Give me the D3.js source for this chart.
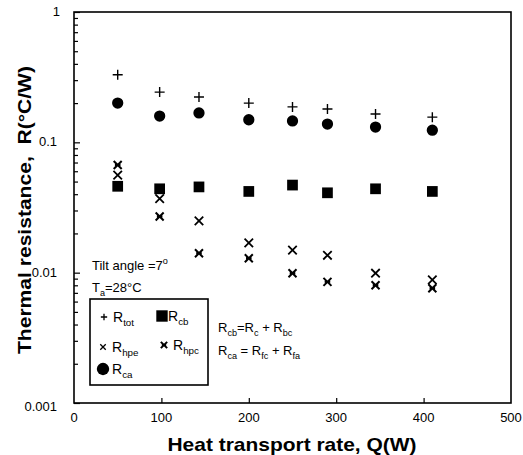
<!DOCTYPE html>
<html>
<head>
<meta charset="utf-8">
<script src="https://cdn.jsdelivr.net/npm/d3@7"></script>
<style>
  body { margin: 0; background: #fff; }
  svg { display: block; font-family: 'Liberation Sans', Arial, sans-serif; }
</style>
</head>
<body>
<div class="container"></div>
<script>
// values
const heatRate = [50, 98, 143, 200, 250, 290, 345, 410];
const rTot = [0.33, 0.243, 0.223, 0.2, 0.187, 0.18, 0.165, 0.156];
const rCa = [0.2, 0.159, 0.168, 0.149, 0.146, 0.138, 0.131, 0.124];
const rCb = [0.046, 0.044, 0.0455, 0.042, 0.047, 0.041, 0.044, 0.042];
const rHpe = [0.056, 0.037, 0.025, 0.0169, 0.0149, 0.0136, 0.0099, 0.0088];
const rHpc = [0.067, 0.027, 0.0141, 0.0129, 0.0099, 0.0085, 0.008, 0.0076];

const xTicks = [0, 100, 200, 300, 400, 500];
const yTicks = [1, 0.1, 0.01, 0.001];

const width = 523;
const height = 455;
const frame = { left: 74, right: 511, top: 12, bottom: 403 };

const svg = d3.select('.container')
  .append('svg')
  .attr('width', width)
  .attr('height', height);

const xScale = d3.scaleLinear().domain([0, 500]).range([frame.left, frame.right]);
const yScale = d3.scaleLog().domain([0.001, 1]).range([frame.bottom, frame.top]);

// custom marker shapes, drawn through d3.symbol
const plusShape = {
  draw(ctx, size) {
    const r = Math.sqrt(size) / 2;
    ctx.moveTo(-r, 0); ctx.lineTo(r, 0);
    ctx.moveTo(0, -r); ctx.lineTo(0, r);
  }
};
const crossShape = {
  draw(ctx, size) {
    const r = Math.sqrt(size) / 2;
    ctx.moveTo(-r, -r); ctx.lineTo(r, r);
    ctx.moveTo(-r, r); ctx.lineTo(r, -r);
  }
};
const starShape = {
  draw(ctx, size) {
    const r = Math.sqrt(size) / 2;
    ctx.moveTo(-r, -r); ctx.lineTo(r, r);
    ctx.moveTo(-r, r); ctx.lineTo(r, -r);
    ctx.moveTo(-r * 0.7, 0); ctx.lineTo(r * 0.7, 0);
  }
};

const series = [
  { values: rCb, type: d3.symbolSquare, size: 115, fill: '#000', stroke: 'none' },
  { values: rCa, type: d3.symbolCircle, size: 100, fill: '#000', stroke: 'none' },
  { values: rTot, type: plusShape, size: 100, fill: 'none', stroke: '#000', sw: 1.4 },
  { values: rHpe, type: crossShape, size: 72, fill: 'none', stroke: '#000', sw: 1.8 },
  { values: rHpc, type: starShape, size: 64, fill: 'none', stroke: '#000', sw: 2 }
];

// frame
svg.append('rect')
  .attr('x', frame.left)
  .attr('y', frame.top)
  .attr('width', frame.right - frame.left)
  .attr('height', frame.bottom - frame.top)
  .attr('fill', 'none')
  .attr('stroke', '#000')
  .attr('stroke-width', 1.6);

// y axis: major and minor ticks pointing inside
const minorTicks = [];
[0.001, 0.01, 0.1].forEach(base => {
  d3.range(2, 10).forEach(m => minorTicks.push(base * m));
});
svg.append('g')
  .attr('transform', `translate(${frame.left},0)`)
  .call(d3.axisRight(yScale).tickValues(minorTicks).tickSize(4).tickFormat(''))
  .call(g => g.select('.domain').remove());
svg.append('g')
  .attr('transform', `translate(${frame.left},0)`)
  .call(d3.axisRight(yScale).tickValues(yTicks).tickSize(6).tickFormat(''))
  .call(g => g.select('.domain').remove());

svg.append('g')
  .selectAll('text')
  .data(yTicks)
  .enter()
  .append('text')
  .attr('x', d => (d === 1 ? 60 : 57))
  .attr('y', d => yScale(d) + (d === 0.001 ? 8 : 4))
  .attr('text-anchor', 'end')
  .attr('font-size', 13)
  .text(d => d);

// x axis: ticks pointing up
svg.append('g')
  .attr('transform', `translate(0,${frame.bottom})`)
  .call(d3.axisTop(xScale).tickValues([100, 200, 300, 400]).tickSize(5).tickFormat(''))
  .call(g => g.select('.domain').remove());

svg.append('g')
  .selectAll('text')
  .data(xTicks)
  .enter()
  .append('text')
  .attr('x', d => xScale(d))
  .attr('y', 422)
  .attr('text-anchor', 'middle')
  .attr('font-size', 13)
  .text(d => d);

svg.selectAll('.tick line').attr('stroke', '#000').attr('stroke-width', 1.2);

// axis titles
svg.append('text')
  .attr('x', 292)
  .attr('y', 451)
  .attr('text-anchor', 'middle')
  .attr('font-size', 19)
  .attr('font-weight', 'bold')
  .attr('textLength', 249)
  .attr('lengthAdjust', 'spacingAndGlyphs')
  .text('Heat transport rate, Q(W)');

svg.append('text')
  .attr('transform', 'translate(31,210) rotate(-90)')
  .attr('text-anchor', 'middle')
  .attr('font-size', 19)
  .attr('font-weight', 'bold')
  .attr('textLength', 288)
  .attr('lengthAdjust', 'spacingAndGlyphs')
  .attr('xml:space', 'preserve')
  .text('Thermal resistance,  R(\u00B0C/W)');

// data markers
series.forEach(s => {
  svg.append('g')
    .selectAll('path')
    .data(s.values)
    .enter()
    .append('path')
    .attr('transform', (d, i) => `translate(${xScale(heatRate[i])},${yScale(d)})`)
    .attr('d', d3.symbol().type(s.type).size(s.size))
    .attr('fill', s.fill)
    .attr('stroke', s.stroke)
    .attr('stroke-width', s.sw || 0);
});

// text with subscripts
function richText(x, y, parts, size) {
  const t = svg.append('text')
    .attr('x', x)
    .attr('y', y)
    .attr('font-size', size)
    .attr('xml:space', 'preserve');
  parts.forEach(p => {
    const span = t.append('tspan').text(p[0]);
    if (p[1] === 'sub') span.attr('font-size', size * 0.7).attr('dy', 4);
    if (p[1] === 'sup') span.attr('font-size', size * 0.7).attr('dy', -6);
    if (p[2]) span.attr('dy', p[2]);
  });
  return t;
}

richText(92, 270, [['Tilt angle =7'], ['o', 'sup'], ['', null, 6]], 13);
richText(92, 292, [['T'], ['a', 'sub'], ['=28', null, -4], ['\u00B0C']], 13);

richText(218, 332, [['R'], ['cb', 'sub'], ['=R', null, -4], ['c', 'sub'], [' + R', null, -4], ['bc', 'sub']], 13);
richText(218, 355, [['R'], ['ca', 'sub'], [' = R', null, -4], ['fc', 'sub'], [' + R', null, -4], ['fa', 'sub']], 13);

// legend
svg.append('rect')
  .attr('x', 90)
  .attr('y', 299)
  .attr('width', 118)
  .attr('height', 86)
  .attr('fill', '#fff')
  .attr('stroke', '#000')
  .attr('stroke-width', 1.6);

const legendItems = [
  { type: plusShape, size: 40, fill: 'none', sw: 1.3, x: 104, y: 317, label: 'tot' },
  { type: d3.symbolSquare, size: 130, fill: '#000', sw: 0, x: 162, y: 316, label: 'cb', gap: 6 },
  { type: crossShape, size: 30, fill: 'none', sw: 1.3, x: 103, y: 347, label: 'hpe' },
  { type: starShape, size: 40, fill: 'none', sw: 2, x: 164, y: 345, label: 'hpc' },
  { type: d3.symbolCircle, size: 120, fill: '#000', sw: 0, x: 103, y: 369, label: 'ca' }
];

legendItems.forEach(d => {
  svg.append('path')
    .attr('transform', `translate(${d.x},${d.y})`)
    .attr('d', d3.symbol().type(d.type).size(d.size))
    .attr('fill', d.fill)
    .attr('stroke', '#000')
    .attr('stroke-width', d.sw);
  richText(d.x + (d.gap || 9), d.y + 5, [['R'], [d.label, 'sub']], 14);
});
</script>
</body>
</html>
